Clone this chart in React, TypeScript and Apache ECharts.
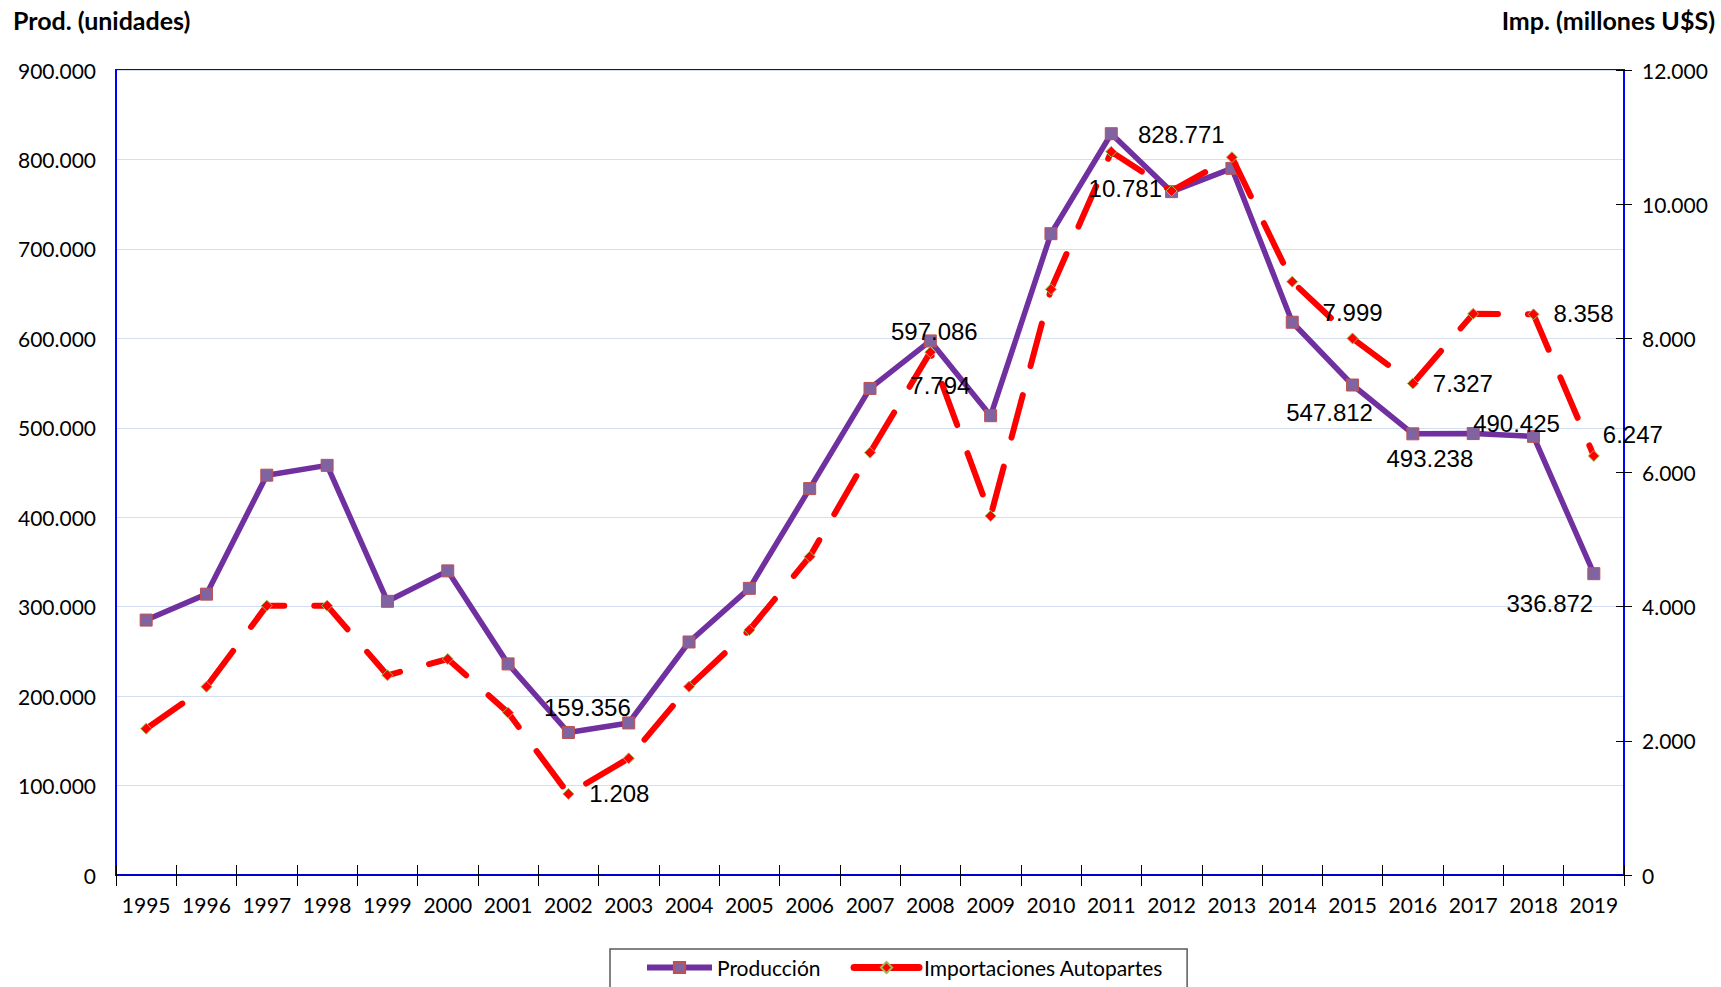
import React, { useEffect, useRef } from "react";
import * as echarts from "echarts";

const years = [
  "1995", "1996", "1997", "1998", "1999", "2000", "2001", "2002", "2003", "2004",
  "2005", "2006", "2007", "2008", "2009", "2010", "2011", "2012", "2013", "2014",
  "2015", "2016", "2017", "2018", "2019",
];

// Producción (unidades)
const produccion = [
  285000, 314000, 447000, 458000, 306000, 340000, 236000, 159356, 170000, 260500,
  320500, 432000, 544000, 597086, 513500, 717000, 828771, 764000, 790000, 618000,
  547812, 493238, 493500, 490425, 336872,
];

// Importaciones Autopartes (millones U$S)
const importaciones = [
  2181, 2807, 4015, 4015, 2977, 3220, 2420, 1208, 1739, 2807,
  3652, 4745, 6296, 7794, 5352, 8731, 10781, 10197, 10700, 8845,
  7999, 7327, 8365, 8358, 6247,
];

const leftTicks = { min: 0, max: 900000, interval: 100000 };
const rightTicks = { min: 0, max: 12000, interval: 2000 };

const seriesNames = ["Producción", "Importaciones Autopartes"];
const axisTitles = ["Prod. (unidades)", "Imp. (millones U$S)"];

// label offsets (styling) for the labelled points, keyed by index
const prodLabelOffsets: Record<number, [number, number]> = {
  7: [19, -25],
  13: [4, -9],
  16: [70, 1],
  20: [-23, 27],
  21: [17, 25],
  23: [-17, -13],
  24: [-44, 30],
};
const impLabelOffsets: Record<number, [number, number]> = {
  7: [51, 0],
  13: [10, 33],
  16: [14, 37],
  20: [0, -26],
  21: [50, 0],
  23: [50, -1],
  24: [39, -21],
};

const fmt = (n: number) =>
  String(Math.round(n)).replace(/\B(?=(\d{3})+(?!\d))/g, ".");

const AXIS_FONT = "Lato";
const LABEL_FONT = "Liberation Sans";

export default function App() {
  const ref = useRef<HTMLDivElement>(null);

  useEffect(() => {
    if (!ref.current) return;
    const chart = echarts.init(ref.current, undefined, { renderer: "svg" });

    const dataLabel = {
      show: true,
      position: "inside",
      fontFamily: LABEL_FONT,
      fontSize: 24,
      color: "#000",
      formatter: (p: any) => fmt(p.value),
    };

    const prodData = produccion.map((v, i) =>
      prodLabelOffsets[i]
        ? { value: v, label: { ...dataLabel, offset: prodLabelOffsets[i] } }
        : { value: v }
    );
    const impData = importaciones.map((v, i) =>
      impLabelOffsets[i]
        ? { value: v, label: { ...dataLabel, offset: impLabelOffsets[i] } }
        : { value: v }
    );

    const axisLabelStyle = {
      fontFamily: AXIS_FONT,
      fontSize: 21,
      color: "#000",
    };

    chart.setOption({
      animation: false,
      backgroundColor: "#fff",
      grid: {
        left: 116,
        right: 97,
        top: 70,
        bottom: 112,
        show: true,
        borderColor: "#0000FF",
        borderWidth: 2,
        backgroundColor: "transparent",
      },
      legend: {
        left: 610,
        top: 949,
        orient: "horizontal",
        itemWidth: 65,
        itemHeight: 14,
        itemGap: 30,
        padding: [8, 24, 14, 34],
        borderColor: "#595959",
        borderWidth: 1.5,
        textStyle: { fontFamily: AXIS_FONT, fontSize: 21, color: "#000" },
        data: [
          { name: seriesNames[0], lineStyle: { width: 6, color: "#7030A0" } },
          {
            name: seriesNames[1],
            lineStyle: { type: "solid", width: 7, color: "#FF0000", cap: "round" },
          },
        ],
      },
      xAxis: [
        {
          type: "category",
          data: years,
          boundaryGap: true,
          axisLine: { show: true, lineStyle: { color: "#0000CC", width: 2 } },
          axisTick: {
            show: true,
            inside: false,
            length: 11,
            lineStyle: { color: "#000", width: 1 },
          },
          axisLabel: { ...axisLabelStyle, margin: 19, interval: 0 },
          splitLine: { show: false },
        },
        {
          type: "category",
          data: years,
          position: "bottom",
          boundaryGap: true,
          axisLine: { show: false },
          axisTick: {
            show: true,
            inside: true,
            length: 10,
            lineStyle: { color: "#000", width: 1 },
          },
          axisLabel: { show: false },
          splitLine: { show: false },
        },
      ],
      yAxis: [
        {
          type: "value",
          position: "left",
          ...leftTicks,
          axisLine: { show: true, lineStyle: { color: "#0000FF", width: 2 } },
          axisTick: { show: false },
          axisLabel: { ...axisLabelStyle, margin: 20, formatter: (v: number) => fmt(v) },
          splitLine: { show: true, lineStyle: { color: "#D3DFF1", width: 1 } },
        },
        {
          type: "value",
          position: "right",
          ...rightTicks,
          axisLine: { show: true, lineStyle: { color: "#0000FF", width: 2 } },
          axisTick: {
            show: true,
            inside: false,
            length: 8,
            lineStyle: { color: "#000", width: 1 },
          },
          axisLabel: { ...axisLabelStyle, margin: 18, formatter: (v: number) => fmt(v) },
          splitLine: { show: false },
        },
        {
          type: "value",
          position: "right",
          ...rightTicks,
          axisLine: { show: false },
          axisTick: {
            show: true,
            inside: true,
            length: 8,
            lineStyle: { color: "#000", width: 1 },
          },
          axisLabel: { show: false },
          splitLine: { show: false },
        },
      ],
      graphic: [
        {
          type: "text",
          left: 13,
          top: 7,
          style: {
            text: axisTitles[0],
            font: `bold 25px ${AXIS_FONT}`,
            fill: "#000",
          },
        },
        {
          type: "text",
          right: 6,
          top: 7,
          style: {
            text: axisTitles[1],
            font: `bold 25px ${AXIS_FONT}`,
            fill: "#000",
          },
        },
      ],
      series: [
        {
          name: seriesNames[0],
          type: "line",
          xAxisIndex: 0,
          yAxisIndex: 0,
          data: prodData,
          symbol: "rect",
          symbolSize: 12,
          showAllSymbol: true,
          lineStyle: { color: "#7030A0", width: 5.5 },
          itemStyle: { color: "#8064A2", borderColor: "#C0504D", borderWidth: 1 },
          label: { show: false },
          z: 2,
        },
        {
          name: seriesNames[1],
          type: "line",
          xAxisIndex: 0,
          yAxisIndex: 1,
          data: impData,
          symbol: "diamond",
          symbolSize: 11,
          showAllSymbol: true,
          lineStyle: { color: "#FF0000", width: 6, type: [44, 30], cap: "round" },
          itemStyle: { color: "#FF0000", borderColor: "#9BBB59", borderWidth: 1 },
          label: { show: false },
          z: 3,
        },
      ],
    });

    return () => chart.dispose();
  }, []);

  return (
    <div
      ref={ref}
      style={{ position: "fixed", left: 0, top: 0, width: 1721, height: 987 }}
    />
  );
}
